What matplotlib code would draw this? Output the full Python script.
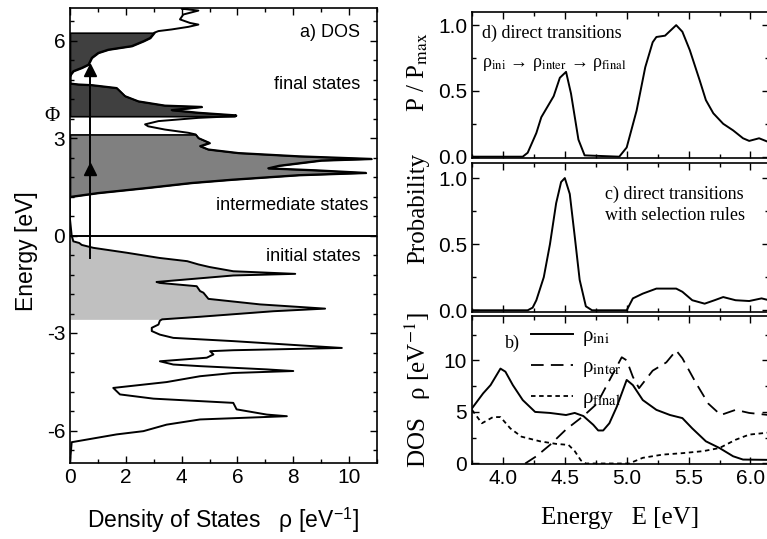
import numpy as np
import matplotlib
matplotlib.use("Agg")
import matplotlib.pyplot as plt
from matplotlib.ticker import MultipleLocator, AutoMinorLocator, FormatStrFormatter
from matplotlib.lines import Line2D

plt.rcParams['font.family'] = ['Liberation Sans', 'DejaVu Sans']
plt.rcParams['axes.unicode_minus'] = False
plt.rcParams['mathtext.fontset'] = 'stix'

SERIF = ['Liberation Serif', 'DejaVu Serif']

# ---- a) DOS, left panel (energy from top to bottom)
dos_E = [7.0, 6.98, 6.92, 6.8, 6.65, 6.54, 6.49, 6.42, 6.34, 6.29, 6.24, 6.08, 5.98, 5.83,
         5.72, 5.62, 5.47, 5.26, 5.16, 5.06, 4.95, 4.9, 4.68, 4.65, 4.63, 4.54, 4.44, 4.29,
         4.13, 4.0, 3.96, 3.86, 3.78, 3.7, 3.67, 3.62, 3.52, 3.42, 3.36, 3.26, 3.16, 3.11,
         3.0, 2.85, 2.75, 2.65, 2.54, 2.44, 2.36, 2.31, 2.15, 2.07, 2.01, 1.93, 1.86, 1.72,
         1.62, 1.47, 1.31, 1.19, 0.5, 0.0, -0.18, -0.23, -0.29, -0.38, -0.53, -0.69, -0.79,
         -0.89, -0.97, -1.1, -1.18, -1.23, -1.43, -1.46, -1.56, -1.71, -1.76, -1.95, -2.12,
         -2.25, -2.33, -2.5, -2.58, -2.62, -2.74, -2.84, -2.94, -3.05, -3.15, -3.25, -3.38,
         -3.46, -3.53, -3.56, -3.66, -3.76, -3.87, -3.97, -4.02, -4.12, -4.17, -4.23, -4.33,
         -4.51, -4.69, -4.89, -5.02, -5.15, -5.35, -5.51, -5.56, -5.66, -5.82, -6.02, -6.12,
         -6.36, -7.0]
dos_rho = [4.2, 4.0, 4.6, 4.06, 3.94, 4.3, 4.6, 4.24, 3.64, 3.17, 3.02, 2.87, 2.63, 2.21,
           1.37, 1.01, 0.78, 0.66, 0.42, 0.12, 0.02, 0.0, 0.0, 0.3, 0.78, 1.67, 1.79, 1.97,
           2.45, 3.4, 4.72, 3.64, 4.6, 5.95, 5.9, 4.6, 3.17, 2.69, 2.8, 3.4, 4.24, 4.5,
           4.6, 5.0, 4.66, 4.95, 6.03, 8.2, 10.8, 9.0, 7.5, 7.1, 8.8, 10.6, 8.2, 5.8,
           4.36, 2.8, 1.01, 0.0, 0.0, 0.06, 0.12, 0.33, 0.42, 0.84, 2.03, 3.2, 4.2,
           4.6, 5.0, 5.85, 8.07, 5.85, 3.1, 3.22, 4.54, 4.66, 4.78, 4.96, 6.81,
           9.14, 7.29, 4.66, 3.3, 3.22, 3.17, 2.93, 2.93, 3.22, 3.7, 5.85, 8.24,
           9.74, 5.85, 5.02, 5.14, 4.9, 3.22, 3.7, 4.66, 7.05, 8.0, 5.85, 4.66,
           3.46, 1.55, 1.79, 2.99, 5.85, 5.97, 7.05, 7.77, 4.66, 3.46, 2.63, 1.67,
           0.06, 0.0]

# energy windows of the shaded state groups
initial_band = (-2.58, 0.0)
inter_band = (1.19, 3.11)
final_band = (3.67, 6.24)
phi_E = 3.67
arrow_E = (-0.7, 5.26)
arrow_heads = [2.04, 5.1]
arrow_x = 0.72

# ---- right panels, energy axis E [eV]
d_E = [3.75, 4.16, 4.2, 4.27, 4.31, 4.41, 4.46, 4.51, 4.55, 4.61, 4.66, 4.94, 5.0, 5.08,
       5.15, 5.21, 5.24, 5.31, 5.40, 5.45, 5.51, 5.59, 5.64, 5.70, 5.78, 5.86, 5.94, 5.99,
       6.07, 6.15]
d_P = [0, 0, 0.03, 0.18, 0.30, 0.46, 0.60, 0.645, 0.48, 0.13, 0.01, 0, 0.07, 0.35,
       0.68, 0.87, 0.91, 0.92, 1.0, 0.95, 0.81, 0.58, 0.43, 0.33, 0.25, 0.20, 0.14, 0.12,
       0.14, 0.11]

c_E = [3.75, 4.2, 4.24, 4.27, 4.33, 4.38, 4.43, 4.47, 4.50, 4.54, 4.58, 4.62, 4.67, 4.72,
       5.0, 5.05, 5.13, 5.24, 5.40, 5.45, 5.53, 5.63, 5.71, 5.78, 5.88, 5.99, 6.09, 6.15]
c_P = [0, 0, 0.02, 0.076, 0.25, 0.5, 0.81, 0.97, 1.0, 0.88, 0.56, 0.23, 0.03, 0,
       0, 0.09, 0.126, 0.164, 0.164, 0.14, 0.076, 0.05, 0.076, 0.1, 0.076, 0.07, 0.09, 0.076]

ini_E = [3.75, 3.84, 3.90, 3.98, 4.02, 4.08, 4.16, 4.26, 4.38, 4.51, 4.58, 4.65, 4.73, 4.77,
         4.81, 4.86, 4.92, 5.0, 5.05, 5.13, 5.24, 5.35, 5.45, 5.53, 5.64, 5.75, 5.86, 5.94,
         6.15]
ini_rho = [5.35, 6.8, 7.6, 9.2, 8.9, 7.6, 6.15, 5.0, 4.9, 4.7, 4.9, 4.6, 3.75, 3.2,
           3.2, 3.9, 5.5, 8.1, 7.6, 6.15, 5.2, 4.7, 4.4, 3.4, 2.15, 1.5, 0.7, 0.38, 0.35]

inter_E = [4.18, 4.27, 4.38, 4.51, 4.65, 4.76, 4.84, 4.92, 4.96, 5.0, 5.05, 5.10, 5.21,
           5.32, 5.40, 5.45, 5.56, 5.66, 5.76, 5.88, 5.99, 6.15]
inter_rho = [0, 0.7, 1.8, 3.3, 4.6, 5.8, 7.6, 9.4, 10.3, 10.0, 8.4, 7.3, 9.0,
             9.8, 10.96, 10.2, 7.8, 5.8, 4.7, 5.2, 4.9, 4.7]

final_E = [3.75, 3.83, 3.92, 3.98, 4.06, 4.15, 4.30, 4.43, 4.53, 4.58, 4.63, 4.67, 5.02,
           5.13, 5.29, 5.45, 5.62, 5.75, 5.88, 5.99, 6.15]
final_rho = [5.2, 3.9, 4.5, 4.5, 3.4, 2.6, 2.15, 1.9, 1.8, 1.2, 0.3, 0, 0,
             0.55, 0.86, 1.0, 1.2, 1.5, 2.3, 2.8, 3.0]

W, H = 767, 539
fig = plt.figure(figsize=(W / 100, H / 100), dpi=100)


def box(l, t, r, b):
    return [l / W, (H - b) / H, (r - l) / W, (b - t) / H]


def style(ax):
    ax.tick_params(which='both', direction='in', top=True, right=True, width=1.0,
                   labelsize=15)
    ax.tick_params(which='major', length=5)
    ax.tick_params(which='minor', length=3)
    for s in ax.spines.values():
        s.set_linewidth(1.2)


# ---------------- left panel
axL = fig.add_axes(box(70, 8, 377, 463))
E = np.array(dos_E)
rho = np.array(dos_rho)
lo, hi = initial_band
axL.fill_betweenx(E, 0, rho, where=(E >= lo) & (E <= hi), color='#c0c0c0', lw=0)
lo, hi = inter_band
axL.fill_betweenx(E, 0, rho, where=(E >= lo) & (E <= hi), facecolor='#808080',
                  edgecolor='k', lw=1.2)
lo, hi = final_band
axL.fill_betweenx(E, 0, rho, where=(E >= lo) & (E <= hi), facecolor='#404040',
                  edgecolor='k', lw=1.2)
axL.plot(rho, E, color='k', lw=1.4)
axL.axhline(0, color='k', lw=1.4)
axL.plot([arrow_x, arrow_x], arrow_E, color='k', lw=1.4)
axL.plot([arrow_x] * len(arrow_heads), arrow_heads, ls='none', marker='^', ms=9,
         color='k')

axL.set_xlim(0, 11)
axL.set_ylim(-7, 7)
axL.xaxis.set_major_locator(MultipleLocator(2))
axL.xaxis.set_minor_locator(MultipleLocator(1))
axL.yaxis.set_major_locator(MultipleLocator(3))
axL.yaxis.set_minor_locator(AutoMinorLocator(5))
style(axL)
axL.set_xlabel('Density of States   ρ [eV$^{\\mathregular{-1}}$]', fontsize=16.5,
               labelpad=14)
axL.set_ylabel('Energy [eV]', fontsize=16.5)
axL.yaxis.set_label_coords(-0.105, 0.466)

axL.text(10.4, 6.26, 'a) DOS', fontsize=13, ha='right', va='center')
axL.text(10.4, 4.65, 'final states', fontsize=13, ha='right', va='center')
axL.text(10.7, 0.92, 'intermediate states', fontsize=13, ha='right', va='center')
axL.text(10.4, -0.65, 'initial states', fontsize=13, ha='right', va='center')
axL.text(-0.059, phi_E, 'Φ', transform=axL.get_yaxis_transform(), fontsize=15,
         family=SERIF, ha='center', va='center')

# ---------------- right panels
axD = fig.add_axes(box(472, 12, 769, 158))
axC = fig.add_axes(box(472, 163, 769, 312))
axB = fig.add_axes(box(472, 316, 769, 464))

axD.plot(d_E, d_P, color='k', lw=1.4)
axC.plot(c_E, c_P, color='k', lw=1.4)
axB.plot(ini_E, ini_rho, color='k', lw=1.4, ls='-')
axB.plot(inter_E, inter_rho, color='k', lw=1.3, ls=(0, (7, 4)))
axB.plot(final_E, final_rho, color='k', lw=1.3, ls=(0, (2.5, 2)))

for ax in (axD, axC, axB):
    ax.set_xlim(3.75, 6.15)
    ax.xaxis.set_major_locator(MultipleLocator(0.5))
    ax.xaxis.set_minor_locator(MultipleLocator(0.25))
    style(ax)
    ax.xaxis.set_major_formatter(FormatStrFormatter('%.1f'))
for ax in (axD, axC):
    ax.yaxis.set_major_locator(MultipleLocator(0.5))
    ax.yaxis.set_minor_locator(MultipleLocator(0.25))
    ax.yaxis.set_major_formatter(FormatStrFormatter('%.1f'))
    ax.tick_params(labelbottom=False)
axD.set_ylim(-0.01, 1.1)
axC.set_ylim(-0.013, 1.114)
axB.set_ylim(-0.05, 14.3)
axB.yaxis.set_major_locator(MultipleLocator(5))
axB.yaxis.set_minor_locator(MultipleLocator(2.5))

axD.text(0.034, 0.856, 'd) direct transitions', transform=axD.transAxes, fontsize=13,
         family=SERIF, va='center')
axD.text(0.034, 0.64,
         'ρ$_{\\mathrm{ini}}$ → ρ$_{\\mathrm{inter}}$ → ρ$_{\\mathrm{final}}$',
         transform=axD.transAxes, fontsize=13, family=SERIF, va='center')
axC.text(0.448, 0.72, 'c) direct transitions\nwith selection rules',
         transform=axC.transAxes, fontsize=13, family=SERIF, va='center',
         linespacing=1.3)
axB.text(0.111, 0.818, 'b)', transform=axB.transAxes, fontsize=13, family=SERIF,
         va='center')

handles = [Line2D([], [], color='k', lw=1.4, ls='-'),
           Line2D([], [], color='k', lw=1.3, ls=(0, (7, 4))),
           Line2D([], [], color='k', lw=1.3, ls=(0, (2.5, 2)))]
labels = ['ρ$_{\\mathrm{ini}}$', 'ρ$_{\\mathrm{inter}}$', 'ρ$_{\\mathrm{final}}$']
axB.legend(handles, labels, loc='upper left', bbox_to_anchor=(0.2, 0.93),
           frameon=False, borderpad=0, borderaxespad=0, handlelength=2.0,
           handletextpad=0.45, labelspacing=0.45, prop={'family': SERIF, 'size': 15})

axB.set_xlabel('Energy   E [eV]', fontsize=18, family=SERIF, labelpad=14)
fig.text(418 / W, 1 - 208 / H, 'Probability', rotation=90, fontsize=18, family=SERIF,
         ha='center', va='center')
fig.text(418 / W, 1 - 72 / H, 'P / P$_{\\mathrm{max}}$', rotation=90, fontsize=18,
         family=SERIF, ha='center', va='center')
fig.text(418 / W, 1 - 390 / H, 'DOS   ρ [eV$^{-1}$]',
         rotation=90, fontsize=18, family=SERIF, ha='center', va='center')

fig.savefig('out.png', dpi=100)
